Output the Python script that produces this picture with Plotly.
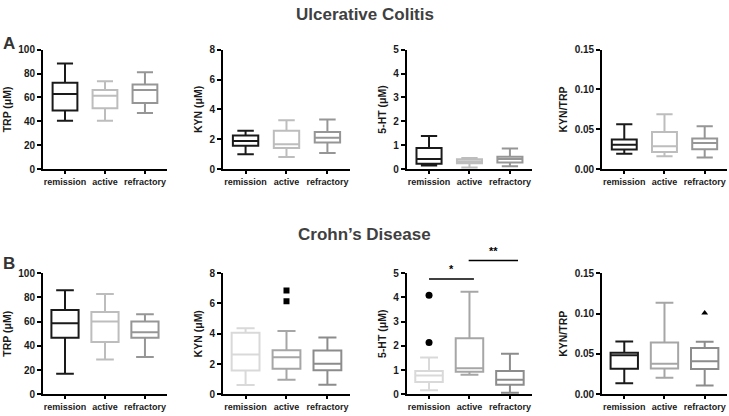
import plotly.graph_objects as go
from plotly.subplots import make_subplots

categories = ["remission", "active", "refractory"]

# box stats per group: [lower whisker, Q1, median, Q3, upper whisker]
uc_trp = [[40.5, 49.2, 63.0, 72.2, 88.4], [40.5, 51.0, 61.4, 66.2, 73.5], [47.0, 55.4, 66.2, 70.8, 81.0]]
uc_kyn = [[1.0, 1.57, 1.89, 2.25, 2.57], [0.82, 1.42, 1.67, 2.57, 3.28], [1.09, 1.78, 2.1, 2.49, 3.33]]
uc_5ht = [[0.16, 0.23, 0.43, 0.885, 1.39], [0.07, 0.25, 0.32, 0.42, 0.47], [0.12, 0.28, 0.43, 0.52, 0.87]]
uc_ratio = [[0.0195, 0.0247, 0.0308, 0.0373, 0.0563], [0.0162, 0.0215, 0.0288, 0.0466, 0.0689],
            [0.0146, 0.0251, 0.0328, 0.0385, 0.0539]]

cd_trp = [[17.0, 46.7, 58.7, 69.6, 85.9], [28.8, 43.2, 60.0, 68.0, 82.7], [30.9, 46.7, 51.2, 60.0, 66.1]]
cd_kyn = [[0.62, 1.57, 2.64, 4.06, 4.36], [0.97, 1.7, 2.45, 2.92, 4.18], [0.64, 1.59, 2.02, 2.9, 3.76]]
cd_5ht = [[0.17, 0.51, 0.78, 0.97, 1.52], [0.81, 0.93, 1.08, 2.31, 4.23], [0.07, 0.4, 0.6, 0.97, 1.68]]
cd_ratio = [[0.0137, 0.0318, 0.0483, 0.0515, 0.0655], [0.0205, 0.0322, 0.0378, 0.0643, 0.1134],
            [0.0109, 0.0314, 0.041, 0.0575, 0.0651]]

# outliers
cd_kyn_out = [6.85, 6.14]      # active
cd_5ht_out = [4.09, 2.14]      # remission
cd_ratio_out = [0.1005]        # refractory

y_titles = ["TRP (μM)", "KYN (μM)", "5-HT (μM)", "KYN/TRP"]
y_ranges = [[0, 100], [0, 8], [0, 5], [0, 0.15]]
y_dticks = [20, 2, 1, 0.05]

dark = ["#1a1a1a", "#bdbdbd", "#969696"]
light = ["#d9d9d9", "#a6a6a6", "#8c8c8c"]
mixed = ["#1a1a1a", "#a6a6a6", "#8c8c8c"]

panels = [
    (1, 1, uc_trp, dark), (1, 2, uc_kyn, dark), (1, 3, uc_5ht, dark), (1, 4, uc_ratio, dark),
    (2, 1, cd_trp, dark), (2, 2, cd_kyn, light), (2, 3, cd_5ht, light), (2, 4, cd_ratio, mixed),
]

fig = make_subplots(rows=2, cols=4)

for row, col, stats, colors in panels:
    for i, cat in enumerate(categories):
        lo, q1, med, q3, hi = stats[i]
        fig.add_trace(go.Box(
            x=[cat], q1=[q1], median=[med], q3=[q3], lowerfence=[lo], upperfence=[hi],
            width=0.62 if row == 1 else 0.68, whiskerwidth=0.65,
            fillcolor="white", line=dict(color=colors[i], width=2),
            showlegend=False, hoverinfo="y"
        ), row=row, col=col)

fig.add_trace(go.Scatter(x=["active"] * len(cd_kyn_out), y=cd_kyn_out, mode="markers",
                         marker=dict(symbol="square", size=6, color="black"), showlegend=False),
              row=2, col=2)
fig.add_trace(go.Scatter(x=["remission"] * len(cd_5ht_out), y=cd_5ht_out, mode="markers",
                         marker=dict(symbol="circle", size=7, color="black"), showlegend=False),
              row=2, col=3)
fig.add_trace(go.Scatter(x=["refractory"] * len(cd_ratio_out), y=cd_ratio_out, mode="markers",
                         marker=dict(symbol="triangle-up", size=6, color="black"), showlegend=False),
              row=2, col=4)

x_domains = [[0.059, 0.229], [0.306, 0.480], [0.558, 0.730], [0.826, 0.997]]
y_domains = {1: [0.596, 0.892], 2: [0.0385, 0.339]}

for row in (1, 2):
    for col in range(1, 5):
        fig.update_xaxes(domain=x_domains[col - 1], type="category", categoryorder="array",
                         categoryarray=categories, range=[-0.55, 2.55],
                         showline=True, linewidth=2, linecolor="black", showgrid=False, zeroline=False,
                         ticks="outside", ticklen=3, tickwidth=2, tickcolor="black",
                         tickfont=dict(size=9, color="#1a1a1a"), row=row, col=col)
        fig.update_yaxes(domain=y_domains[row], range=y_ranges[col - 1], dtick=y_dticks[col - 1],
                         tickformat=".2f" if col == 4 else None,
                         showline=True, linewidth=2, linecolor="black", showgrid=False, zeroline=False,
                         ticks="outside", ticklen=4, tickwidth=2, tickcolor="black",
                         tickfont=dict(size=10, color="#1a1a1a"),
                         title=dict(text=y_titles[col - 1], font=dict(size=10.5, color="#1a1a1a"), standoff=5),
                         row=row, col=col)

# significance bars on Crohn's 5-HT panel
fig.add_shape(type="line", xref="x7", yref="paper", x0=0, x1=1.11, y0=0.3245, y1=0.3245,
              line=dict(color="black", width=1.5))
fig.add_shape(type="line", xref="x7", yref="paper", x0=0.98, x1=2.2, y0=0.370, y1=0.370,
              line=dict(color="black", width=1.5))

annotations = [
    dict(text="Ulcerative Colitis", x=0.5, y=0.979, size=17, color="#404040"),
    dict(text="Crohn’s Disease", x=0.5, y=0.434, size=17, color="#404040"),
    dict(text="A", x=0.012, y=0.908, size=17, color="#333333"),
    dict(text="B", x=0.012, y=0.363, size=17, color="#333333"),
]
for a in annotations:
    fig.add_annotation(text=a["text"], x=a["x"], y=a["y"], xref="paper", yref="paper",
                       showarrow=False, xanchor="center", yanchor="middle",
                       font=dict(size=a["size"], color=a["color"]))

fig.add_annotation(text="*", xref="x7", yref="paper", x=0.55, y=0.329, showarrow=False,
                   yanchor="bottom", font=dict(size=11, color="black"))
fig.add_annotation(text="**", xref="x7", yref="paper", x=1.6, y=0.374, showarrow=False,
                   yanchor="bottom", font=dict(size=11, color="black"))

fig.update_layout(
    width=729, height=416,
    margin=dict(l=0, r=0, t=0, b=0),
    paper_bgcolor="white", plot_bgcolor="white",
    font=dict(family="Liberation Sans, Arial, sans-serif", weight="bold", color="#1a1a1a"),
    boxmode="overlay",
    showlegend=False,
)

# drop the default 8px body margin so the figure sits at the page corner
fig.write_html("out.html", config={"displayModeBar": False},
               post_script="document.body.style.margin='0';document.body.style.overflow='hidden';")
